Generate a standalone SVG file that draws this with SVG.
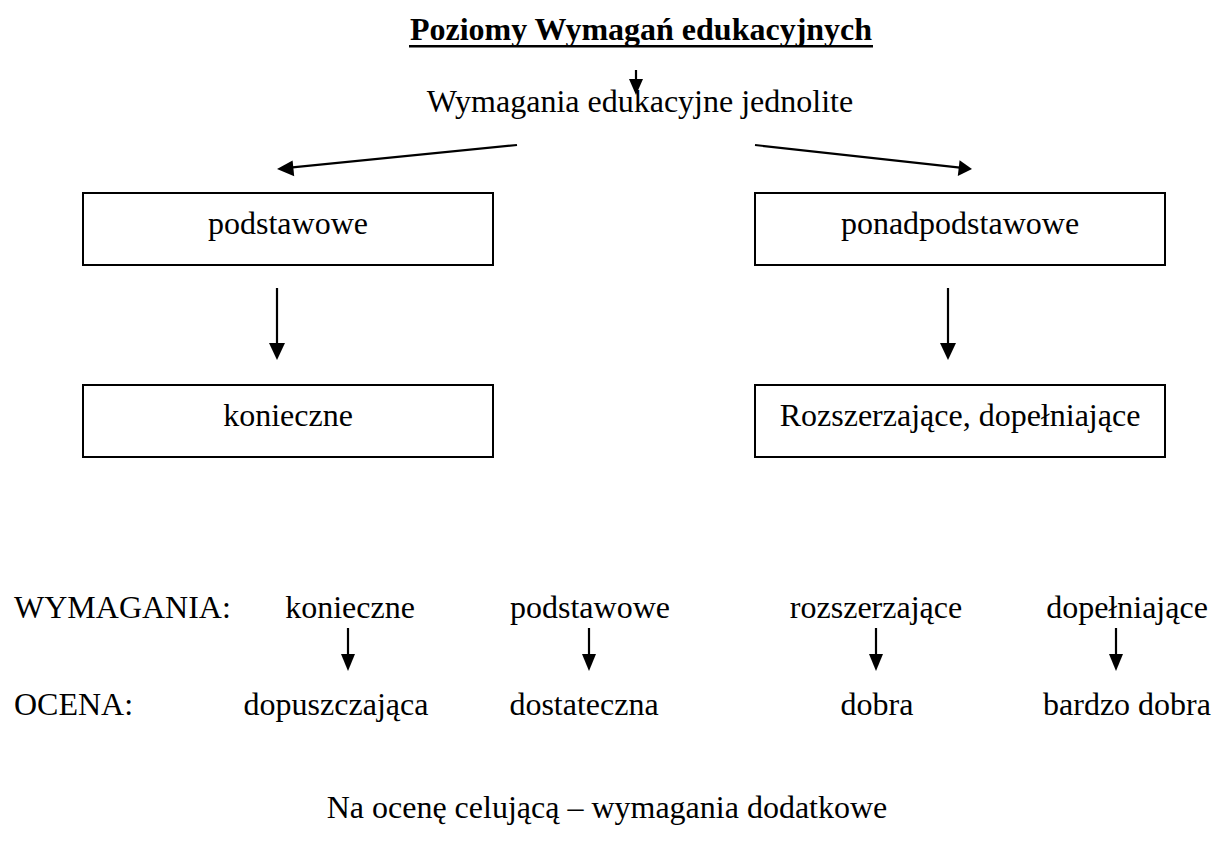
<svg xmlns="http://www.w3.org/2000/svg" width="1215" height="844" viewBox="0 0 1215 844">
<style>
text{font-family:"Liberation Serif","Times New Roman",serif;font-size:32px;fill:#000}
.t{font-weight:bold}
.box{fill:#fff;stroke:#000;stroke-width:2}
.ln{stroke:#000;stroke-width:2.2;fill:none}
.hd{fill:#000}
</style>
<rect width="1215" height="844" fill="#fff"/>
<g id="title">
<text class="t" x="641" y="40" text-anchor="middle">Poziomy Wymagań edukacyjnych</text>
<rect x="409" y="45" width="464" height="2.5" fill="#000"/>
</g>
<g id="root"><text x="640" y="112" text-anchor="middle">Wymagania edukacyjne jednolite</text></g>
<g id="n-podstawowe"><rect class="box" x="83" y="193" width="410" height="72"/><text x="288" y="234" text-anchor="middle">podstawowe</text></g>
<g id="n-ponad"><rect class="box" x="755" y="193" width="410" height="72"/><text x="960" y="234" text-anchor="middle">ponadpodstawowe</text></g>
<g id="n-konieczne"><rect class="box" x="83" y="385" width="410" height="72"/><text x="288" y="426" text-anchor="middle">konieczne</text></g>
<g id="n-rozsz"><rect class="box" x="755" y="385" width="410" height="72"/><text x="960" y="426" text-anchor="middle">Rozszerzające, dopełniające</text></g>
<g id="table">
<text x="14" y="618">WYMAGANIA:</text>
<text x="350" y="618" text-anchor="middle">konieczne</text>
<text x="590" y="618" text-anchor="middle">podstawowe</text>
<text x="876" y="618" text-anchor="middle">rozszerzające</text>
<text x="1127" y="618" text-anchor="middle">dopełniające</text>
<text x="14" y="715">OCENA:</text>
<text x="336" y="715" text-anchor="middle">dopuszczająca</text>
<text x="584" y="715" text-anchor="middle">dostateczna</text>
<text x="877" y="715" text-anchor="middle">dobra</text>
<text x="1127" y="715" text-anchor="middle">bardzo dobra</text>
</g>
<g id="note"><text x="607" y="818" text-anchor="middle">Na ocenę celującą – wymagania dodatkowe</text></g>
<g id="connectors">
<line class="ln" x1="636" y1="70" x2="636" y2="82"/><polygon class="hd" points="629,79 643,79 636,95"/>
<line class="ln" x1="517" y1="145" x2="290" y2="167.6"/><polygon class="hd" points="277,169 292.6,160.4 294.2,176.3"/>
<line class="ln" x1="755" y1="145" x2="960" y2="167.6"/><polygon class="hd" points="972,169 957.8,176.1 959.6,160.2"/>
<line class="ln" x1="277" y1="288" x2="277" y2="345"/><polygon class="hd" points="269,343 285,343 277,360"/>
<line class="ln" x1="948" y1="288" x2="948" y2="345"/><polygon class="hd" points="940,343 956,343 948,360"/>
<line class="ln" x1="348" y1="628" x2="348" y2="657"/><polygon class="hd" points="341,654 355,654 348,671"/>
<line class="ln" x1="589" y1="628" x2="589" y2="657"/><polygon class="hd" points="582,654 596,654 589,671"/>
<line class="ln" x1="876" y1="628" x2="876" y2="657"/><polygon class="hd" points="869,654 883,654 876,671"/>
<line class="ln" x1="1116" y1="628" x2="1116" y2="657"/><polygon class="hd" points="1109,654 1123,654 1116,671"/>
</g>
</svg>
